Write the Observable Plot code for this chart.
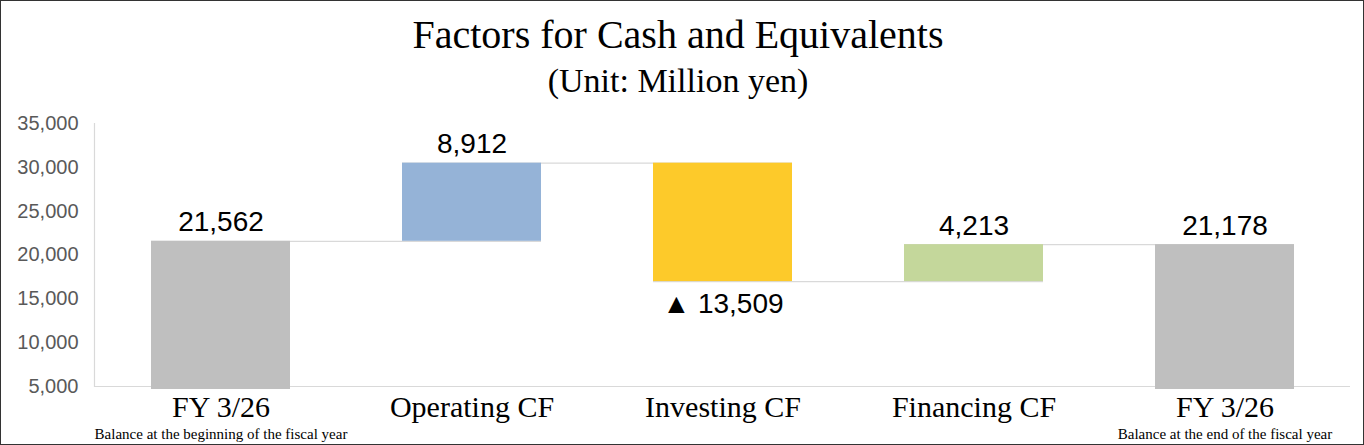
<!DOCTYPE html>
<html>
<head>
<meta charset="utf-8">
<script src="https://cdn.jsdelivr.net/npm/d3@7"></script>
<script src="https://cdn.jsdelivr.net/npm/@observablehq/plot@0.6"></script>
<style>
  html, body { margin: 0; padding: 0; background: #fff; }
  #wrap { position: relative; width: 1364px; height: 445px; overflow: hidden; background: #fff; }
  .ttl { position: absolute; left: 0; width: 1356px; text-align: center; font-family: "Liberation Serif", "Times New Roman", serif; color: #000; white-space: nowrap; line-height: 1; }
  #t1 { top: 15px; font-size: 40px; }
  #t2 { top: 64px; font-size: 34px; }
  #chart { position: absolute; left: 0; top: 110px; }
  #border { position: absolute; left: 0; top: 0; width: 1364px; height: 445px; box-sizing: border-box; border: 1px solid #333; pointer-events: none; }
</style>
</head>
<body>
<div id="wrap">
  <div class="ttl" id="t1">Factors for Cash and Equivalents</div>
  <div class="ttl" id="t2">(Unit: Million yen)</div>
  <div id="chart"></div>
  <div id="border"></div>
</div>
<script>
// ---- data ----
const steps = ["Beginning", "Operating", "Investing", "Financing", "End"];
const labels = ["FY 3/26", "Operating CF", "Investing CF", "Financing CF", "FY 3/26"];
const subLabels = ["Balance at the beginning of the fiscal year", "", "", "", "Balance at the end of the fiscal year"];
const amounts = [21562, 8912, -13509, 4213, 21178];
const kinds = ["total", "change", "change", "change", "total"];
const colors = ["#bfbfbf", "#95b3d7", "#fdca2a", "#c4d79b", "#bfbfbf"];
const yTicks = [5000, 10000, 15000, 20000, 25000, 30000, 35000];

// ---- derived table ----
const yMin = yTicks[0], yMax = yTicks[yTicks.length - 1];
const fmt = d3.format(",");
let running = 0;
const rows = steps.map((s, i) => {
  let lo, hi, level;
  if (kinds[i] === "total") {
    lo = yMin; hi = amounts[i]; level = amounts[i]; running = amounts[i];
  } else {
    const prev = running;
    running = prev + amounts[i];
    lo = Math.min(prev, running); hi = Math.max(prev, running); level = running;
  }
  return {
    step: s, kind: kinds[i], lo, hi, level, neg: amounts[i] < 0,
    color: colors[i],
    label: amounts[i] < 0 ? "▲ " + fmt(-amounts[i]) : fmt(amounts[i]),
    sub: subLabels[i]
  };
});
const connectors = rows.slice(0, -1).map((r, i) => ({ x1: r.step, x2: rows[i + 1].step, y: r.level }));
const labelOf = new Map(steps.map((s, i) => [s, labels[i]]));

const chart = Plot.plot({
  width: 1364,
  height: 335,
  marginLeft: 94,
  marginRight: 14,
  marginTop: 13,
  marginBottom: 59,
  style: { background: "transparent", overflow: "visible" },
  x: { domain: steps, paddingInner: 0.447, paddingOuter: 0.2235, label: null },
  y: { domain: [yMin, yMax], label: null },
  marks: [
    Plot.ruleY([yMin], { stroke: "#d9d9d9", strokeWidth: 1.2 }),
    Plot.frame({ anchor: "left", stroke: "#d9d9d9", strokeWidth: 1.2 }),
    Plot.ruleY(connectors, { x1: "x1", x2: "x2", y: "y", stroke: "#d9d9d9", strokeWidth: 1.2 }),
    Plot.barY(rows.filter(d => d.kind === "total"), { x: "step", y1: "lo", y2: "hi", fill: "color", insetBottom: -3 }),
    Plot.barY(rows.filter(d => d.kind !== "total"), { x: "step", y1: "lo", y2: "hi", fill: "color" }),
    Plot.text(rows.filter(d => !d.neg), { x: "step", y: "hi", text: "label", lineAnchor: "bottom", dy: -10, fontSize: 28, fontFamily: "Liberation Sans, Arial, sans-serif", fill: "#000" }),
    Plot.text(rows.filter(d => d.neg), { x: "step", y: "lo", text: "label", lineAnchor: "top", dy: 12, fontSize: 28, fontFamily: "Liberation Sans, Arial, sans-serif", fill: "#000" }),
    Plot.axisY({ ticks: yTicks, tickFormat: fmt, tickSize: 0, tickPadding: 16, fontSize: 20, fontFamily: "Liberation Sans, Arial, sans-serif", fill: "#595959", label: null }),
    Plot.axisX({ tickSize: 0, tickPadding: 9, tickFormat: d => labelOf.get(d), fontSize: 30, fontFamily: "Liberation Serif, Times New Roman, serif", fill: "#000", label: null }),
    Plot.text(rows.filter(d => d.sub), { x: "step", frameAnchor: "bottom", text: "sub", lineAnchor: "top", dy: 42, fontSize: 15, fontFamily: "Liberation Serif, Times New Roman, serif", fill: "#000" })
  ]
});
document.getElementById("chart").appendChild(chart);
</script>
</body>
</html>
